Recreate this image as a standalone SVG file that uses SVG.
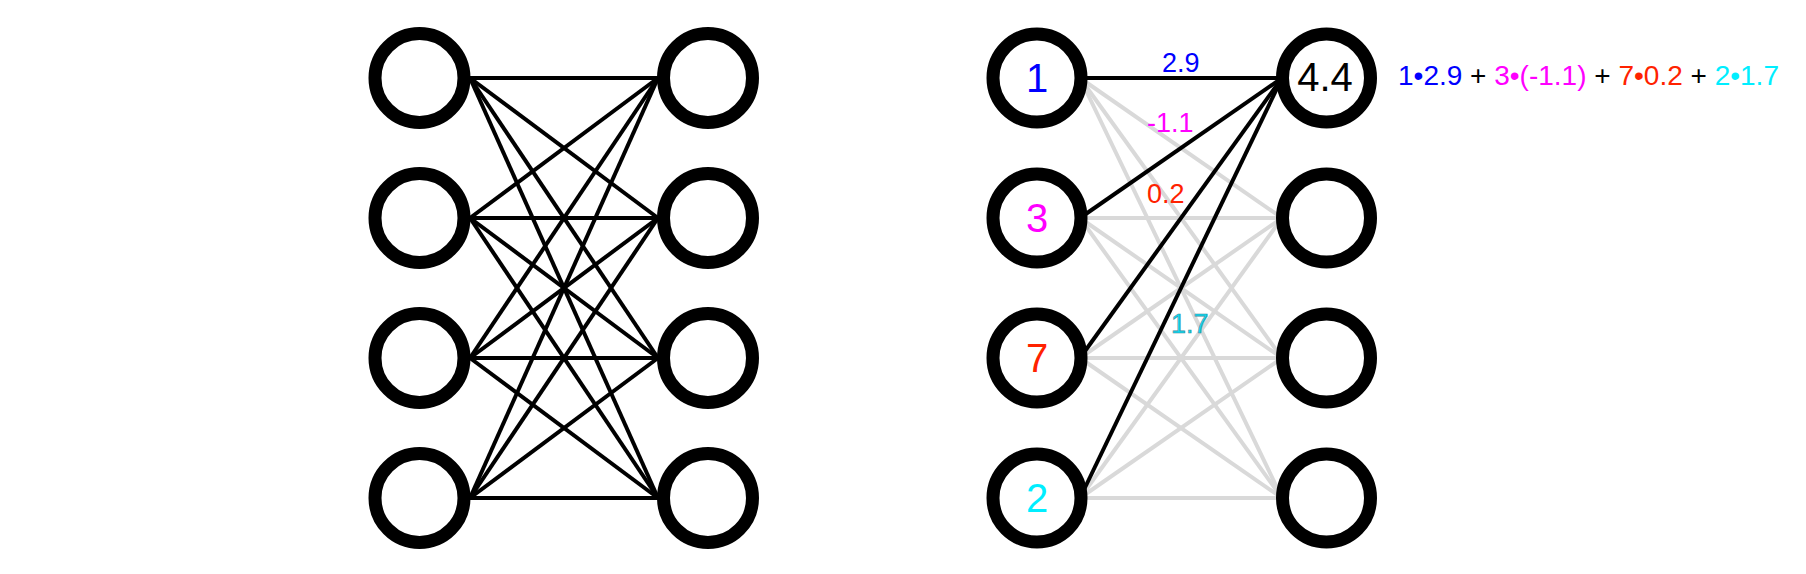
<svg xmlns="http://www.w3.org/2000/svg" width="1806" height="574" viewBox="0 0 1806 574">
<style>
.node{fill:#fff;stroke:#000;stroke-width:13}
.edge{stroke:#000;stroke-width:4;fill:none}
.gray{stroke:#d9d9d9;stroke-width:4;fill:none}
.num{font-family:"Liberation Sans",Arial,sans-serif;font-size:40px;text-anchor:middle}
.w{font-family:"Liberation Sans",Arial,sans-serif;font-size:27px}
.eq{font-family:"Liberation Sans",Arial,sans-serif;font-size:28px}
</style>
<rect width="1806" height="574" fill="#fff"/>
<g id="connectors-left">
<line class="edge" x1="470" y1="78" x2="658" y2="78"/>
<line class="edge" x1="470" y1="78" x2="658" y2="218"/>
<line class="edge" x1="470" y1="78" x2="658" y2="358"/>
<line class="edge" x1="470" y1="78" x2="658" y2="498"/>
<line class="edge" x1="470" y1="218" x2="658" y2="78"/>
<line class="edge" x1="470" y1="218" x2="658" y2="218"/>
<line class="edge" x1="470" y1="218" x2="658" y2="358"/>
<line class="edge" x1="470" y1="218" x2="658" y2="498"/>
<line class="edge" x1="470" y1="358" x2="658" y2="78"/>
<line class="edge" x1="470" y1="358" x2="658" y2="218"/>
<line class="edge" x1="470" y1="358" x2="658" y2="358"/>
<line class="edge" x1="470" y1="358" x2="658" y2="498"/>
<line class="edge" x1="470" y1="498" x2="658" y2="78"/>
<line class="edge" x1="470" y1="498" x2="658" y2="218"/>
<line class="edge" x1="470" y1="498" x2="658" y2="358"/>
<line class="edge" x1="470" y1="498" x2="658" y2="498"/>
</g>
<g id="connectors-right">
<line class="gray" x1="1080" y1="78" x2="1282" y2="218"/>
<line class="gray" x1="1080" y1="78" x2="1282" y2="358"/>
<line class="gray" x1="1080" y1="78" x2="1282" y2="498"/>
<line class="gray" x1="1080" y1="218" x2="1282" y2="218"/>
<line class="gray" x1="1080" y1="218" x2="1282" y2="358"/>
<line class="gray" x1="1080" y1="218" x2="1282" y2="498"/>
<line class="gray" x1="1080" y1="358" x2="1282" y2="218"/>
<line class="gray" x1="1080" y1="358" x2="1282" y2="358"/>
<line class="gray" x1="1080" y1="358" x2="1282" y2="498"/>
<line class="gray" x1="1080" y1="498" x2="1282" y2="218"/>
<line class="gray" x1="1080" y1="498" x2="1282" y2="358"/>
<line class="gray" x1="1080" y1="498" x2="1282" y2="498"/>
<line class="edge" x1="1080" y1="78" x2="1282" y2="78"/>
<line class="edge" x1="1080" y1="218" x2="1282" y2="78"/>
<line class="edge" x1="1080" y1="358" x2="1282" y2="78"/>
<line class="edge" x1="1080" y1="498" x2="1282" y2="78"/>
<text class="w" x="1162" y="72" fill="#0000ff">2.9</text>
<text class="w" x="1147" y="132" fill="#ff00ff">-1.1</text>
<text class="w" x="1147" y="203" fill="#ff2200">0.2</text>
<text class="w" x="1171" y="333" fill="#11d8f0" stroke="#3a8a9a" stroke-width="0.6">1.7</text>
</g>
<g id="left-in-1"><circle class="node" cx="419.5" cy="78" r="44.5"/></g>
<g id="left-in-2"><circle class="node" cx="419.5" cy="218" r="44.5"/></g>
<g id="left-in-3"><circle class="node" cx="419.5" cy="358" r="44.5"/></g>
<g id="left-in-4"><circle class="node" cx="419.5" cy="498" r="44.5"/></g>
<g id="left-out-1"><circle class="node" cx="708" cy="78" r="44.5"/></g>
<g id="left-out-2"><circle class="node" cx="708" cy="218" r="44.5"/></g>
<g id="left-out-3"><circle class="node" cx="708" cy="358" r="44.5"/></g>
<g id="left-out-4"><circle class="node" cx="708" cy="498" r="44.5"/></g>
<g id="right-in-1"><circle class="node" cx="1037" cy="78" r="44"/><text class="num" x="1037" y="92" fill="#0000ff">1</text></g>
<g id="right-in-2"><circle class="node" cx="1037" cy="218" r="44"/><text class="num" x="1037" y="232" fill="#ff00ff">3</text></g>
<g id="right-in-3"><circle class="node" cx="1037" cy="358" r="44"/><text class="num" x="1037" y="372" fill="#ff2200">7</text></g>
<g id="right-in-4"><circle class="node" cx="1037" cy="498" r="44"/><text class="num" x="1037" y="512" fill="#00eeff">2</text></g>
<g id="right-out-1"><circle class="node" cx="1326.5" cy="78" r="44"/><text class="num" x="1325" y="91" fill="#000">4.4</text></g>
<g id="right-out-2"><circle class="node" cx="1326.5" cy="218" r="44"/></g>
<g id="right-out-3"><circle class="node" cx="1326.5" cy="358" r="44"/></g>
<g id="right-out-4"><circle class="node" cx="1326.5" cy="498" r="44"/></g>
<g id="equation">
<text class="eq" x="1398" y="85"><tspan fill="#0000ff">1•2.9</tspan><tspan fill="#000"> + </tspan><tspan fill="#ff00ff">3•(-1.1)</tspan><tspan fill="#000"> + </tspan><tspan fill="#ff2200">7•0.2</tspan><tspan fill="#000"> + </tspan><tspan fill="#00eeff">2•1.7</tspan></text>
</g>
</svg>
